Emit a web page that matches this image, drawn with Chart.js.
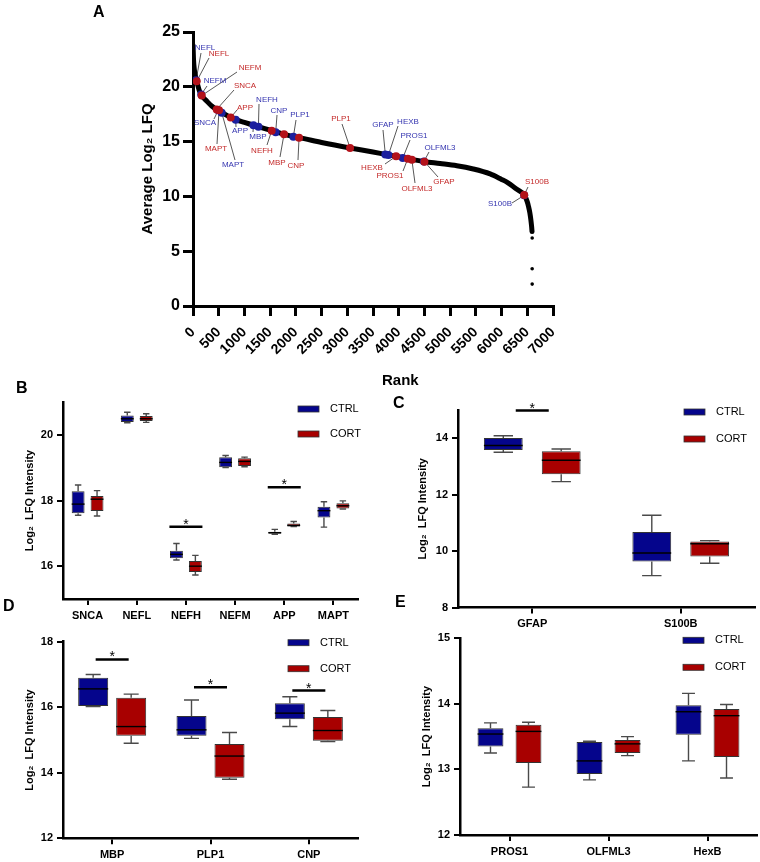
<!DOCTYPE html>
<html>
<head>
<meta charset="utf-8">
<script src="https://cdn.jsdelivr.net/npm/chart.js@4.4.1/dist/chart.umd.min.js"></script>
<style>
  body { margin: 0; background: #fff; width: 760px; height: 862px; position: relative; overflow: hidden;
         font-family: "Liberation Sans", Arial, sans-serif; }
  canvas { position: absolute; }
  .tag { position: absolute; font-weight: bold; font-size: 16px; line-height: 16px; }
</style>
</head>
<body>
<canvas id="chartA"></canvas>
<canvas id="chartB"></canvas>
<canvas id="chartC"></canvas>
<canvas id="chartD"></canvas>
<canvas id="chartE"></canvas>
<div class="tag" style="left:93px;top:4px">A</div>
<div class="tag" style="left:16px;top:380px">B</div>
<div class="tag" style="left:393px;top:395px">C</div>
<div class="tag" style="left:3px;top:598px">D</div>
<div class="tag" style="left:395px;top:594px">E</div>
<div class="tag" style="left:382px;top:372px;font-size:15px;line-height:15px">Rank</div>
<script>
// ---- panel A: ranked average LFQ ----
const curveRank = [1, 10, 25, 50, 72, 120, 169, 266, 364, 461, 506, 600, 733, 830, 1000, 1175, 1272, 1530, 1608, 1770,
  1952, 2062, 2500, 3054, 3500, 3780, 3949, 4079, 4177, 4255, 4500, 4805, 5130, 5450, 5778, 6000, 6103, 6297, 6440,
  6500, 6525, 6550, 6570, 6585, 6592];
const curveLfq = [23.8, 22.5, 21.6, 20.9, 20.5, 19.7, 19.2, 18.7, 18.25, 17.94, 17.85, 17.55, 17.2, 17.0, 16.75, 16.5, 16.36, 16.0, 15.88, 15.67,
  15.45, 15.36, 14.92, 14.42, 14.05, 13.8, 13.66, 13.52, 13.44, 13.37, 13.17, 13.0, 12.8, 12.5, 12.05, 11.55, 11.3, 10.65, 10.13,
  9.5, 9.06, 8.5, 7.85, 7.2, 6.8];
const tailRank = [6595, 6595, 6595];
const tailLfq = [6.2, 3.4, 2.0];

const ctrlGenes = ['NEFL', 'NEFM', 'SNCA', 'MAPT', 'APP', 'MBP', 'NEFH', 'CNP', 'PLP1', 'GFAP', 'HEXB', 'PROS1', 'OLFML3', 'S100B'];
const ctrlRank  = [60, 160, 490, 558, 830, 1175, 1272, 1608, 1952, 3740, 3800, 4079, 4490, 6440];
const ctrlLfq   = [20.6, 19.3, 17.85, 17.64, 17.0, 16.5, 16.36, 15.85, 15.45, 13.82, 13.78, 13.5, 13.18, 10.1];

const cortGenes = ['NEFL', 'NEFM', 'SNCA', 'MAPT', 'APP', 'NEFH', 'MBP', 'CNP', 'PLP1', 'HEXB', 'PROS1', 'OLFML3', 'GFAP', 'S100B'];
const cortRank  = [72, 169, 461, 506, 733, 1530, 1770, 2062, 3054, 3949, 4177, 4255, 4500, 6440];
const cortLfq   = [20.5, 19.2, 17.94, 17.85, 17.2, 16.0, 15.67, 15.36, 14.42, 13.66, 13.44, 13.35, 13.17, 10.13];

// ---- panels B-E: [min, q1, median, q3, max] ----
const bGenes = ['SNCA', 'NEFL', 'NEFH', 'NEFM', 'APP', 'MAPT'];
const bCtrl = [[17.55, 17.61, 17.89, 18.28, 18.47], [20.37, 20.39, 20.49, 20.59, 20.69], [16.19, 16.24, 16.36, 16.47, 16.69],
               [19.0, 19.01, 19.16, 19.32, 19.37], [16.97, 16.99, 17.02, 17.05, 17.12], [17.19, 17.48, 17.69, 17.81, 17.96]];
const bCort = [[17.53, 17.68, 18.04, 18.14, 18.30], [20.38, 20.42, 20.49, 20.57, 20.64], [15.73, 15.82, 16.0, 16.16, 16.33],
               [19.03, 19.05, 19.19, 19.29, 19.32], [17.21, 17.21, 17.24, 17.30, 17.36], [17.74, 17.76, 17.84, 17.92, 17.99]];
const bSig = [[2, 17.2], [4, 18.4]];
const bTicks = [16, 18, 20];

const cGenes = ['GFAP', 'S100B'];
const cCtrl = [[13.5, 13.58, 13.74, 14.01, 14.09], [9.13, 9.63, 9.93, 10.68, 11.27]];
const cCort = [[12.46, 12.72, 13.22, 13.54, 13.62], [9.57, 9.81, 10.26, 10.34, 10.37]];
const cSig = [[0, 14.98]];
const cTicks = [8, 10, 12, 14];

const dGenes = ['MBP', 'PLP1', 'CNP'];
const dCtrl = [[16.02, 16.04, 16.56, 16.90, 17.0], [15.05, 15.13, 15.31, 15.73, 16.22], [15.41, 15.63, 15.82, 16.12, 16.32]];
const dCort = [[14.90, 15.13, 15.41, 16.29, 16.40], [13.80, 13.85, 14.51, 14.88, 15.23], [14.95, 14.98, 15.29, 15.70, 15.90]];
const dSig = [[0, 17.46], [1, 16.61], [2, 16.51]];
const dTicks = [12, 14, 16, 18];

const eGenes = ['PROS1', 'OLFML3', 'HexB'];
const eCtrl = [[13.25, 13.35, 13.54, 13.63, 13.71], [12.84, 12.93, 13.13, 13.42, 13.43], [13.13, 13.53, 13.88, 13.98, 14.16]];
const eCort = [[12.73, 13.10, 13.58, 13.68, 13.72], [13.21, 13.25, 13.39, 13.45, 13.50], [12.87, 13.19, 13.82, 13.92, 13.99]];
const eSig = [];
const eTicks = [12, 13, 14, 15];

const FONT = '"Liberation Sans", Arial, sans-serif';
const BLUE = '#05058c';
const RED = '#a80000';
Chart.defaults.font.family = FONT;
Chart.defaults.color = '#000';
Chart.defaults.animation = false;

// label placement for panel A (page pixels): text centre, then start of the leader line
const geneTagLayout = [
  ['ctrl', 'NEFL', 205, 48, 201, 53], ['ctrl', 'NEFM', 215, 81, 207, 86], ['ctrl', 'SNCA', 205, 123, 214, 119],
  ['ctrl', 'APP', 240, 131, 236, 127], ['ctrl', 'MAPT', 233, 165, 235, 160], ['ctrl', 'NEFH', 267, 100, 259, 104],
  ['ctrl', 'MBP', 258, 137, 253, 132], ['ctrl', 'CNP', 279, 111, 277, 115], ['ctrl', 'PLP1', 300, 115, 296, 120],
  ['ctrl', 'GFAP', 383, 125, 383, 130], ['ctrl', 'HEXB', 408, 122, 398, 126], ['ctrl', 'PROS1', 414, 136, 410, 140],
  ['ctrl', 'OLFML3', 440, 148, 429, 152], ['ctrl', 'S100B', 500, 204, 512, 203],
  ['cort', 'NEFL', 219, 54, 209, 58], ['cort', 'NEFM', 250, 68, 237, 72], ['cort', 'SNCA', 245, 86, 234, 90],
  ['cort', 'APP', 245, 108, 237, 110], ['cort', 'MAPT', 216, 149, 217, 144], ['cort', 'NEFH', 262, 151, 267, 145],
  ['cort', 'MBP', 277, 163, 280, 157], ['cort', 'CNP', 296, 166, 298, 160], ['cort', 'PLP1', 341, 119, 342, 124],
  ['cort', 'HEXB', 372, 168, 385, 164], ['cort', 'PROS1', 390, 176, 403, 171], ['cort', 'OLFML3', 417, 189, 415, 183],
  ['cort', 'GFAP', 444, 182, 438, 177], ['cort', 'S100B', 537, 182, 528, 187]
];

// canvas placement so the plot areas land where the figure has them
function place(id, box, area, titleX, titleSize) {
  const c = document.getElementById(id);
  c.width = box.w; c.height = box.h;
  c.style.width = box.w + 'px'; c.style.height = box.h + 'px';
  c.style.left = box.x + 'px'; c.style.top = box.y + 'px';
  const padLeft = titleX - box.x - 9;
  return {
    el: c,
    padding: { left: padLeft, top: area.t - box.y, right: box.x + box.w - area.r, bottom: 0 },
    yWidth: area.l - box.x - padLeft,
    xHeight: box.y + box.h - area.b,
    titlePad: 9 - titleSize * 0.6
  };
}

function pointOf(chart, group, gene) {
  const names = group === 'ctrl' ? ctrlGenes : cortGenes;
  const ranks = group === 'ctrl' ? ctrlRank : cortRank;
  const vals = group === 'ctrl' ? ctrlLfq : cortLfq;
  const i = names.indexOf(gene);
  return [chart.scales.x.getPixelForValue(ranks[i]), chart.scales.y.getPixelForValue(vals[i])];
}

const tagPlugin = {
  id: 'geneTags',
  beforeDatasetsDraw(chart) {
    const ctx = chart.ctx;
    ctx.save();
    ctx.strokeStyle = '#444';
    ctx.lineWidth = 0.9;
    geneTagLayout.forEach(t => {
      const p = pointOf(chart, t[0], t[1]);
      ctx.beginPath();
      ctx.moveTo(t[4], t[5]);
      ctx.lineTo(p[0], p[1]);
      ctx.stroke();
    });
    ctx.restore();
  },
  afterDatasetsDraw(chart) {
    const ctx = chart.ctx;
    ctx.save();
    ctx.font = '8px ' + FONT;
    ctx.textAlign = 'center';
    ctx.textBaseline = 'middle';
    geneTagLayout.forEach(t => {
      ctx.fillStyle = t[0] === 'ctrl' ? '#3535b0' : '#c42a2a';
      ctx.fillText(t[1], t[2], t[3]);
    });
    ctx.restore();
  }
};

const fA = place('chartA', { x: 0, y: 0, w: 600, h: 362 }, { l: 193, t: 32, r: 553, b: 306 }, 148, 15);
new Chart(fA.el, {
  type: 'scatter',
  data: {
    datasets: [
      { label: 'CORT', data: cortRank.map((r, i) => ({ x: r, y: cortLfq[i] })), backgroundColor: '#b3121a',
        borderWidth: 0, pointRadius: 4 },
      { label: 'CTRL', data: ctrlRank.map((r, i) => ({ x: r, y: ctrlLfq[i] })), backgroundColor: '#1c1f9e',
        borderWidth: 0, pointRadius: 4 },
      { label: 'tail', data: tailRank.map((r, i) => ({ x: r, y: tailLfq[i] })), backgroundColor: '#000',
        borderWidth: 0, pointRadius: 1.8 },
      { label: 'all', data: curveRank.map((r, i) => ({ x: r, y: curveLfq[i] })), showLine: true,
        borderColor: '#000', borderWidth: 5, pointRadius: 0, cubicInterpolationMode: 'monotone',
        borderCapStyle: 'round', borderJoinStyle: 'round' }
    ]
  },
  options: {
    responsive: false,
    layout: { padding: fA.padding },
    plugins: { legend: { display: false }, tooltip: { enabled: false } },
    scales: {
      x: {
        type: 'linear', min: 0, max: 7000,
        ticks: { stepSize: 500, autoSkip: false, minRotation: 45, maxRotation: 45, padding: 8,
                 font: { size: 14, weight: 'bold' }, color: '#000', callback: v => String(v) },
        grid: { drawOnChartArea: false, tickLength: 10, color: '#000', lineWidth: 3 },
        border: { color: '#000', width: 3 },
        afterFit: s => { s.height = fA.xHeight; }
      },
      y: {
        min: 0, max: 25,
        ticks: { stepSize: 5, padding: 3, font: { size: 16, weight: 'bold' }, color: '#000' },
        grid: { drawOnChartArea: false, tickLength: 10, color: '#000', lineWidth: 3 },
        border: { color: '#000', width: 3 },
        title: { display: true, text: 'Average Log₂ LFQ', font: { size: 15, weight: 'bold' }, color: '#000',
                 padding: { top: fA.titlePad, bottom: 0 } },
        afterFit: s => { s.width = fA.yWidth; }
      }
    }
  },
  plugins: [tagPlugin]
});

// whiskers, medians, significance bars and the in-plot legend
const boxPlugin = {
  id: 'boxExtras',
  afterDatasetsDraw(chart, args, opts) {
    const ctx = chart.ctx, y = chart.scales.y;
    chart.data.datasets.forEach((ds, i) => {
      chart.getDatasetMeta(i).data.forEach((bar, j) => {
        const s = ds.stats[j], x = bar.x, w = bar.width;
        ctx.save();
        ctx.strokeStyle = '#4a4a4a';
        ctx.lineWidth = 1.4;
        ctx.beginPath();
        ctx.moveTo(x, y.getPixelForValue(s[4])); ctx.lineTo(x, y.getPixelForValue(s[3]));
        ctx.moveTo(x, y.getPixelForValue(s[1])); ctx.lineTo(x, y.getPixelForValue(s[0]));
        ctx.moveTo(x - w / 4, y.getPixelForValue(s[4])); ctx.lineTo(x + w / 4, y.getPixelForValue(s[4]));
        ctx.moveTo(x - w / 4, y.getPixelForValue(s[0])); ctx.lineTo(x + w / 4, y.getPixelForValue(s[0]));
        ctx.stroke();
        ctx.strokeStyle = '#000';
        ctx.beginPath();
        ctx.moveTo(x - w / 2, y.getPixelForValue(s[2])); ctx.lineTo(x + w / 2, y.getPixelForValue(s[2]));
        ctx.stroke();
        ctx.restore();
      });
    });
  },
  afterDraw(chart, args, opts) {
    const ctx = chart.ctx, xs = chart.scales.x, y = chart.scales.y, a = chart.chartArea;
    ctx.save();
    opts.sig.forEach(s => {
      const cx = xs.getPixelForValue(s[0]), py = y.getPixelForValue(s[1]);
      ctx.strokeStyle = '#000';
      ctx.lineWidth = 2.5;
      ctx.beginPath();
      ctx.moveTo(cx - 16.5, py); ctx.lineTo(cx + 16.5, py);
      ctx.stroke();
      ctx.fillStyle = '#000';
      ctx.font = '14px ' + FONT;
      ctx.textAlign = 'center';
      ctx.textBaseline = 'alphabetic';
      ctx.fillText('*', cx, py + 2);
    });
    const lg = opts.legend;
    chart.data.datasets.forEach((ds, i) => {
      const lx = a.right + lg.dx, ly = a.top + lg.dy + i * lg.gap;
      ctx.fillStyle = ds.backgroundColor;
      ctx.fillRect(lx, ly - 3, 21, 6);
      ctx.strokeStyle = '#333';
      ctx.lineWidth = 0.8;
      ctx.strokeRect(lx, ly - 3, 21, 6);
      ctx.fillStyle = '#000';
      ctx.font = '11px ' + FONT;
      ctx.textAlign = 'left';
      ctx.textBaseline = 'middle';
      ctx.fillText(ds.label, lx + 32, ly);
    });
    ctx.restore();
  }
};

function boxChart(id, box, area, titleX, genes, ctrl, cort, yMin, yMax, yTicks, sig, catPct, barPct, legend) {
  const f = place(id, box, area, titleX, 11);
  const tickFont = { size: 11, weight: 'bold' };
  const makeSet = (label, stats, color) => ({
    label: label, stats: stats, data: stats.map(s => [s[1], s[3]]),
    backgroundColor: color, borderColor: '#333', borderWidth: 1, borderSkipped: false,
    categoryPercentage: catPct, barPercentage: barPct
  });
  return new Chart(f.el, {
    type: 'bar',
    data: { labels: genes, datasets: [makeSet('CTRL', ctrl, BLUE), makeSet('CORT', cort, RED)] },
    options: {
      responsive: false,
      layout: { padding: f.padding },
      plugins: { legend: { display: false }, tooltip: { enabled: false },
                 boxExtras: { sig: sig, legend: legend } },
      scales: {
        x: {
          offset: true,
          grid: { offset: false, drawOnChartArea: false, tickLength: 6, color: '#000', lineWidth: 2 },
          border: { color: '#000', width: 2.5 },
          ticks: { font: tickFont, color: '#000', padding: 4, maxRotation: 0, autoSkip: false },
          afterFit: s => { s.height = f.xHeight; }
        },
        y: {
          min: yMin, max: yMax,
          afterBuildTicks: s => { s.ticks = yTicks.map(v => ({ value: v })); },
          grid: { drawOnChartArea: false, tickLength: 6, color: '#000', lineWidth: 2 },
          border: { color: '#000', width: 2.5 },
          ticks: { font: tickFont, color: '#000', padding: 4 },
          title: { display: true, text: 'Log₂  LFQ Intensity', font: { size: 11, weight: 'bold' }, color: '#000',
                   padding: { top: f.titlePad, bottom: 0 } },
          afterFit: s => { s.width = f.yWidth; }
        }
      }
    },
    plugins: [boxPlugin]
  });
}

boxChart('chartB', { x: 0, y: 380, w: 370, h: 245 }, { l: 63, t: 402, r: 358, b: 599 }, 30,
  bGenes, bCtrl, bCort, 15, 21, bTicks, bSig, 0.77, 0.68, { dx: -60, dy: 7, gap: 25 });
boxChart('chartC', { x: 370, y: 380, w: 390, h: 258 }, { l: 458, t: 410, r: 755, b: 607.5 }, 423,
  cGenes, cCtrl, cCort, 8, 15, cTicks, cSig, 0.78, 0.67, { dx: -71, dy: 2, gap: 27 });
boxChart('chartD', { x: 0, y: 615, w: 370, h: 247 }, { l: 63, t: 641.7, r: 358, b: 838.3 }, 30,
  dGenes, dCtrl, dCort, 12, 18, dTicks, dSig, 0.773, 0.79, { dx: -70, dy: 1, gap: 26 });
boxChart('chartE', { x: 370, y: 615, w: 390, h: 247 }, { l: 460, t: 638.3, r: 757, b: 835 }, 427,
  eGenes, eCtrl, eCort, 12, 15, eTicks, eSig, 0.768, 0.68, { dx: -74, dy: 2, gap: 27 });
</script>
</body>
</html>
